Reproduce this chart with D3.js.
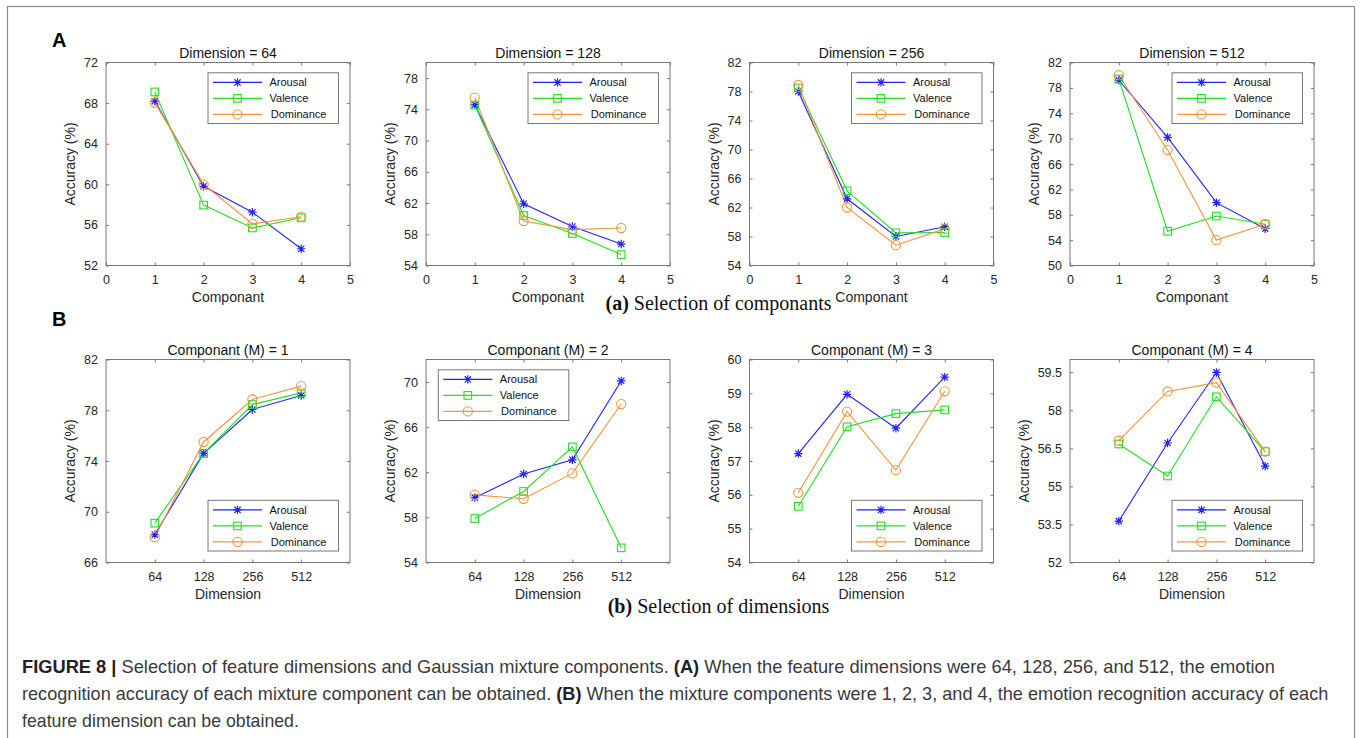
<!DOCTYPE html>
<html>
<head>
<meta charset="utf-8">
<script src="https://cdn.jsdelivr.net/npm/d3@7"></script>
<style>
  html, body { margin: 0; padding: 0; background: #fff; }
  svg { display: block; }
</style>
</head>
<body>
<svg id="chart" width="1362" height="738"></svg>
<script>
// ---------------- DATA ----------------
const components = [1, 2, 3, 4];
const dimensions = ["64", "128", "256", "512"];
const seriesNames = ["Arousal", "Valence", "Dominance"];

// (a) top row: one panel per dimension, values over components 1..4
const arousalA = [
  [68.2, 59.8, 57.25, 53.65],
  [74.6, 61.9, 59.0, 56.75],
  [78.0, 63.2, 58.0, 59.35],
  [79.2, 70.2, 59.9, 55.8]
];
const valenceA = [
  [69.1, 57.95, 55.7, 56.7],
  [74.55, 60.4, 58.1, 55.4],
  [78.5, 64.3, 58.5, 58.55],
  [79.4, 55.4, 57.8, 56.5]
];
const dominanceA = [
  [68.05, 60.0, 56.1, 56.8],
  [75.5, 59.7, 58.6, 58.8],
  [78.9, 62.0, 56.8, 59.05],
  [80.0, 68.2, 54.0, 56.5]
];

// (b) bottom row: one panel per component, values over dimensions 64..512
const arousalB = [
  [68.2, 74.6, 78.06, 79.16],
  [59.75, 61.85, 63.1, 70.1],
  [57.22, 58.97, 57.97, 59.48],
  [53.63, 56.71, 59.49, 55.8]
];
const valenceB = [
  [69.1, 74.6, 78.45, 79.37],
  [57.9, 60.3, 64.25, 55.3],
  [55.66, 58.01, 58.40, 58.51],
  [56.67, 55.41, 58.53, 56.37]
];
const dominanceB = [
  [68.0, 75.5, 78.85, 79.9],
  [60.0, 59.65, 61.9, 68.05],
  [56.06, 58.46, 56.73, 59.06],
  [56.8, 58.74, 59.09, 56.37]
];

const topXTicks = [0, 1, 2, 3, 4, 5];
const topYDomains = [[52, 72], [54, 80], [54, 82], [50, 82]];
const topYTicks = [
  [52, 56, 60, 64, 68, 72],
  [54, 58, 62, 66, 70, 74, 78],
  [54, 58, 62, 66, 70, 74, 78, 82],
  [50, 54, 58, 62, 66, 70, 74, 78, 82]
];
const botYDomains = [[66, 82], [54, 72], [54, 60], [52, 60]];
const botYTicks = [
  [66, 70, 74, 78, 82],
  [54, 58, 62, 66, 70],
  [54, 55, 56, 57, 58, 59, 60],
  [52, 53.5, 55, 56.5, 58, 59.5]
];
const botLegendPos = ["se", "nw", "se", "se"];
const captionLines = [
  [["FIGURE 8 | ", true], ["Selection of feature dimensions and Gaussian mixture components. ", false], ["(A)", true], [" When the feature dimensions were 64, 128, 256, and 512, the emotion", false]],
  [["recognition accuracy of each mixture component can be obtained. ", false], ["(B)", true], [" When the mixture components were 1, 2, 3, and 4, the emotion recognition accuracy of each", false]],
  [["feature dimension can be obtained.", false]]
];

// ---------------- STYLE ----------------
const colors = ["#2222ff", "#22e022", "#f7933a"];
const markers = ["star", "square", "circle"];
const axisColor = "#777";
const textColor = "#262626";
const sansFont = "Liberation Sans, Arial, Helvetica, sans-serif";
const serifFont = "Liberation Serif, Times New Roman, serif";

const svg = d3.select("#chart");
const seriesA = [arousalA, valenceA, dominanceA];
const seriesB = [arousalB, valenceB, dominanceB];

// outer frame
svg.append("rect").attr("x", 7.5).attr("y", 6.5).attr("width", 1347).attr("height", 740)
  .attr("fill", "none").attr("stroke", "#8a8a8a").attr("stroke-width", 1.2);

const lefts = [106, 426, 749.5, 1070];
const W = 244, H = 203;
const topRowY = 62.5, botRowY = 359.5;

function drawMarker(g, type, x, y, color) {
  if (type === "star") {
    const r = 4.2, d = r * 0.75;
    const p = `M${x - r},${y}L${x + r},${y}M${x},${y - r}L${x},${y + r}` +
      `M${x - d},${y - d}L${x + d},${y + d}M${x - d},${y + d}L${x + d},${y - d}`;
    g.append("path").attr("d", p).attr("stroke", color).attr("stroke-width", 1.2).attr("fill", "none");
  } else if (type === "square") {
    g.append("rect").attr("x", x - 3.8).attr("y", y - 3.8).attr("width", 7.6).attr("height", 7.6)
      .attr("fill", "none").attr("stroke", color).attr("stroke-width", 1.1);
  } else {
    g.append("circle").attr("cx", x).attr("cy", y).attr("r", 4.6)
      .attr("fill", "none").attr("stroke", color).attr("stroke-width", 1.1);
  }
}

function panel(opts) {
  const { left, top, title, xTicks, xTickLabels, yDomain, yTicks, xLabel, series, legend } = opts;
  const g = svg.append("g");
  const x = d3.scaleLinear().domain([0, 5]).range([left, left + W]);
  const y = d3.scaleLinear().domain(yDomain).range([top + H, top]);

  g.append("rect").attr("x", left).attr("y", top).attr("width", W).attr("height", H)
    .attr("fill", "#fff").attr("stroke", axisColor).attr("stroke-width", 1);

  const fmtX = (d, i) => xTickLabels ? xTickLabels[i] : d;
  const xAxis = d3.axisBottom(x).tickValues(xTicks).tickSizeInner(-3).tickSizeOuter(0).tickPadding(8)
    .tickFormat(fmtX);
  const gx = g.append("g").attr("transform", `translate(0,${top + H})`).call(xAxis);
  const xTop = d3.axisTop(x).tickValues(xTicks).tickSizeInner(-3).tickSizeOuter(0).tickFormat("");
  const gxt = g.append("g").attr("transform", `translate(0,${top})`).call(xTop);
  const yAxis = d3.axisLeft(y).tickValues(yTicks).tickSizeInner(-3).tickSizeOuter(0).tickPadding(8)
    .tickFormat(d => d);
  const gy = g.append("g").attr("transform", `translate(${left},0)`).call(yAxis);
  const yRight = d3.axisRight(y).tickValues(yTicks).tickSizeInner(-3).tickSizeOuter(0).tickFormat("");
  const gyr = g.append("g").attr("transform", `translate(${left + W},0)`).call(yRight);
  [gx, gxt, gy, gyr].forEach(a => {
    a.select(".domain").remove();
    a.selectAll(".tick line").attr("stroke", axisColor);
    a.selectAll("text").attr("fill", textColor).style("font-family", sansFont).style("font-size", "12.5px");
  });
  gx.selectAll(".tick text").attr("dy", "0.85em");

  let maxW = 0;
  gy.selectAll(".tick text").each(function () { maxW = Math.max(maxW, this.getComputedTextLength()); });

  g.append("text").attr("x", left + W / 2).attr("y", top - 5).attr("text-anchor", "middle")
    .attr("fill", "#111").style("font-family", sansFont).style("font-size", "14px").text(title);
  g.append("text").attr("x", left + W / 2).attr("y", top + H + 36).attr("text-anchor", "middle")
    .attr("fill", textColor).style("font-family", sansFont).style("font-size", "14px").text(xLabel);
  const ylx = left - 8 - maxW - 14;
  g.append("text").attr("transform", `translate(${ylx},${top + H / 2}) rotate(-90)`)
    .attr("text-anchor", "middle").attr("dominant-baseline", "central")
    .attr("fill", textColor).style("font-family", sansFont).style("font-size", "14px").text("Accuracy (%)");

  const line = d3.line().x(d => x(d[0])).y(d => y(d[1]));
  series.forEach((vals, s) => {
    const pts = vals.map((v, i) => [i + 1, v]);
    g.append("path").attr("d", line(pts)).attr("fill", "none").attr("stroke", colors[s]).attr("stroke-width", 1.1);
  });
  series.forEach((vals, s) => {
    vals.forEach((v, i) => drawMarker(g, markers[s], x(i + 1), y(v), colors[s]));
  });

  const lw = 130.5, lh = 50.7;
  let lx, ly;
  if (legend === "ne") { lx = left + W - 11.5 - lw; ly = top + 10.3; }
  else if (legend === "se") { lx = left + W - 11.5 - lw; ly = top + H - 11.5 - lh; }
  else { lx = left + 12.3; ly = top + 10.3; }
  const lg = g.append("g");
  lg.append("rect").attr("x", lx).attr("y", ly).attr("width", lw).attr("height", lh)
    .attr("fill", "#fff").attr("stroke", axisColor).attr("stroke-width", 1);
  seriesNames.forEach((name, s) => {
    const yy = ly + 9.6 + s * 16;
    lg.append("line").attr("x1", lx + 5).attr("x2", lx + 54).attr("y1", yy).attr("y2", yy)
      .attr("stroke", colors[s]).attr("stroke-width", 1.1);
    drawMarker(lg, markers[s], lx + 29.5, yy, colors[s]);
    lg.append("text").attr("x", lx + 61.5 + (s === 2 ? 1.3 : 0)).attr("y", yy).attr("dominant-baseline", "central")
      .attr("fill", "#111").style("font-family", sansFont).style("font-size", "11px").text(name);
  });
}

dimensions.forEach((dim, i) => {
  panel({
    left: lefts[i], top: topRowY, title: "Dimension = " + dim,
    xTicks: topXTicks, xTickLabels: null, yDomain: topYDomains[i], yTicks: topYTicks[i],
    xLabel: "Componant", series: seriesA.map(m => m[i]), legend: "ne"
  });
});
components.forEach((c, j) => {
  panel({
    left: lefts[j], top: botRowY, title: "Componant (M) = " + c,
    xTicks: [1, 2, 3, 4], xTickLabels: dimensions, yDomain: botYDomains[j], yTicks: botYTicks[j],
    xLabel: "Dimension", series: seriesB.map(m => m[j]), legend: botLegendPos[j]
  });
});

svg.append("text").attr("x", 52).attr("y", 46.5).style("font-family", sansFont).style("font-size", "20px")
  .style("font-weight", "bold").attr("fill", "#000").text("A");
svg.append("text").attr("x", 52).attr("y", 326).style("font-family", sansFont).style("font-size", "20px")
  .style("font-weight", "bold").attr("fill", "#000").text("B");

function subCaption(label, rest, yb) {
  const t = svg.append("text").attr("x", 718.5).attr("y", yb).attr("text-anchor", "middle")
    .style("font-family", serifFont).style("font-size", "20px").attr("fill", "#111");
  t.append("tspan").style("font-weight", "bold").text(label);
  t.append("tspan").text(" " + rest);
}
subCaption("(a)", "Selection of componants", 310);
subCaption("(b)", "Selection of dimensions", 613);

const lineEnds = [1276, 1329, 299];
const baselines = [673, 700, 727];
captionLines.forEach((segs, k) => {
  const g = svg.append("g");
  const t = g.append("text").attr("x", 0).attr("y", 0)
    .style("font-family", "Liberation Sans Narrow, " + sansFont).style("font-size", "18px").attr("fill", "#3a3a3a");
  segs.forEach(([s, b]) => {
    const ts = t.append("tspan").text(s);
    if (b) ts.style("font-weight", "bold").attr("fill", "#222");
  });
  const w = t.node().getComputedTextLength();
  const target = lineEnds[k] - 22;
  g.attr("transform", `translate(22,${baselines[k]}) scale(${target / w},1)`);
});
</script>
</body>
</html>
